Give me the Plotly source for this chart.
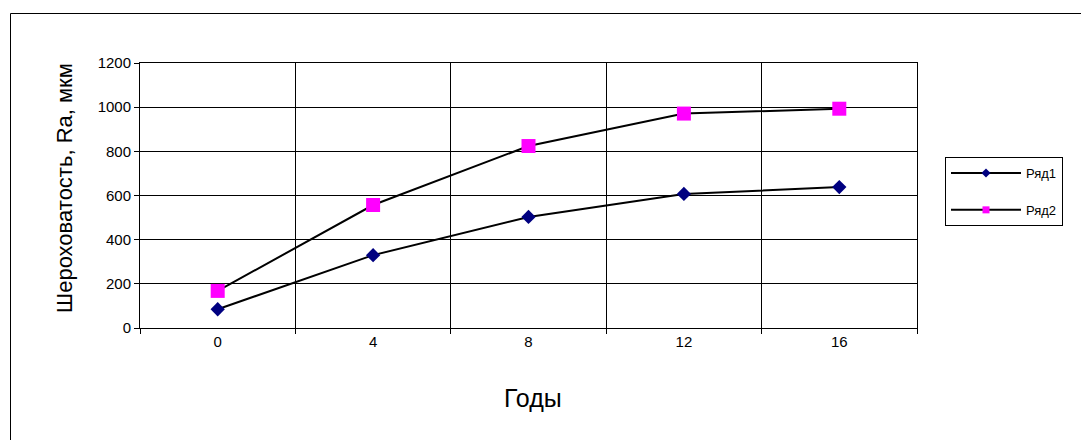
import plotly.graph_objects as go

categories = ["0", "4", "8", "12", "16"]
series1 = [85, 330, 503, 607, 638]
series2 = [168, 557, 824, 971, 993]
series_names = ["Ряд1", "Ряд2"]
y_title = "Шероховатость, Ra, мкм"
x_title = "Годы"

W, H = 1081, 440
L, T = 140, 63
pw, ph = 777, 265
R = W - L - pw
B = H - T - ph

def px_x(x):
    return (x - L) / pw

def px_y(y):
    return (T + ph - y) / ph

fig = go.Figure()
fig.add_trace(go.Scatter(
    x=categories, y=series1, mode="lines+markers", showlegend=False,
    line=dict(color="black", width=2),
    marker=dict(symbol="diamond", size=11, color="#000080", line=dict(width=0)),
))
fig.add_trace(go.Scatter(
    x=categories, y=series2, mode="lines+markers", showlegend=False,
    line=dict(color="black", width=2),
    marker=dict(symbol="square", size=14, color="#FF00FF", line=dict(width=0)),
))
# legend entries
fig.add_trace(go.Scatter(
    x=[None], y=[None], mode="lines+markers", name=series_names[0], legendgroup="a",
    line=dict(color="black", width=2),
    marker=dict(symbol="diamond", size=7, color="#000080", line=dict(width=0)),
))
fig.add_trace(go.Scatter(
    x=[None], y=[None], mode="lines+markers", name=series_names[1], legendgroup="b",
    line=dict(color="black", width=2),
    marker=dict(symbol="square", size=7, color="#FF00FF", line=dict(width=0)),
))

fig.update_layout(
    width=W, height=H,
    margin=dict(l=L, r=R, t=T, b=B, pad=0),
    paper_bgcolor="white", plot_bgcolor="white",
    font=dict(family="Liberation Sans, Arial, sans-serif", color="black", size=15),
    legend=dict(
        x=px_x(945), y=px_y(157), xanchor="left", yanchor="top",
        bordercolor="black", borderwidth=1, bgcolor="white",
        font=dict(size=13), tracegroupgap=17, traceorder="grouped",
        itemwidth=70, entrywidth=125, entrywidthmode="pixels",
    ),
    xaxis=dict(
        type="category", tickson="boundaries", showgrid=True, gridcolor="black", gridwidth=1,
        showline=True, linecolor="black", linewidth=1, mirror=True,
        ticks="outside", ticklen=5, tickcolor="black", zeroline=False,
        tickfont=dict(size=15), range=[-0.5, 4.5],
    ),
    yaxis=dict(
        range=[0, 1200], dtick=200, showgrid=True, gridcolor="black", gridwidth=1,
        showline=True, linecolor="black", linewidth=1, mirror=True,
        ticks="outside", ticklen=5, tickcolor="black", zeroline=False,
        tickfont=dict(size=15),
    ),
    shapes=[
        dict(type="line", xref="paper", yref="paper",
             x0=px_x(10.5), y0=px_y(13.5), x1=px_x(1200), y1=px_y(13.5),
             line=dict(color="black", width=1), layer="below"),
        dict(type="line", xref="paper", yref="paper",
             x0=px_x(10.5), y0=px_y(13.5), x1=px_x(10.5), y1=px_y(600),
             line=dict(color="black", width=1), layer="below"),
    ],
    annotations=[
        dict(text=y_title, xref="paper", yref="paper", x=px_x(64), y=px_y(188),
             showarrow=False, textangle=-90, font=dict(size=22),
             xanchor="center", yanchor="middle"),
        dict(text=x_title, xref="paper", yref="paper", x=px_x(533), y=px_y(398),
             showarrow=False, font=dict(size=25), xanchor="center", yanchor="middle"),
    ],
)

fig.write_html(
    "out.html",
    config={"displayModeBar": False},
    post_script="document.body.style.margin='0';document.body.style.overflow='hidden';",
)
